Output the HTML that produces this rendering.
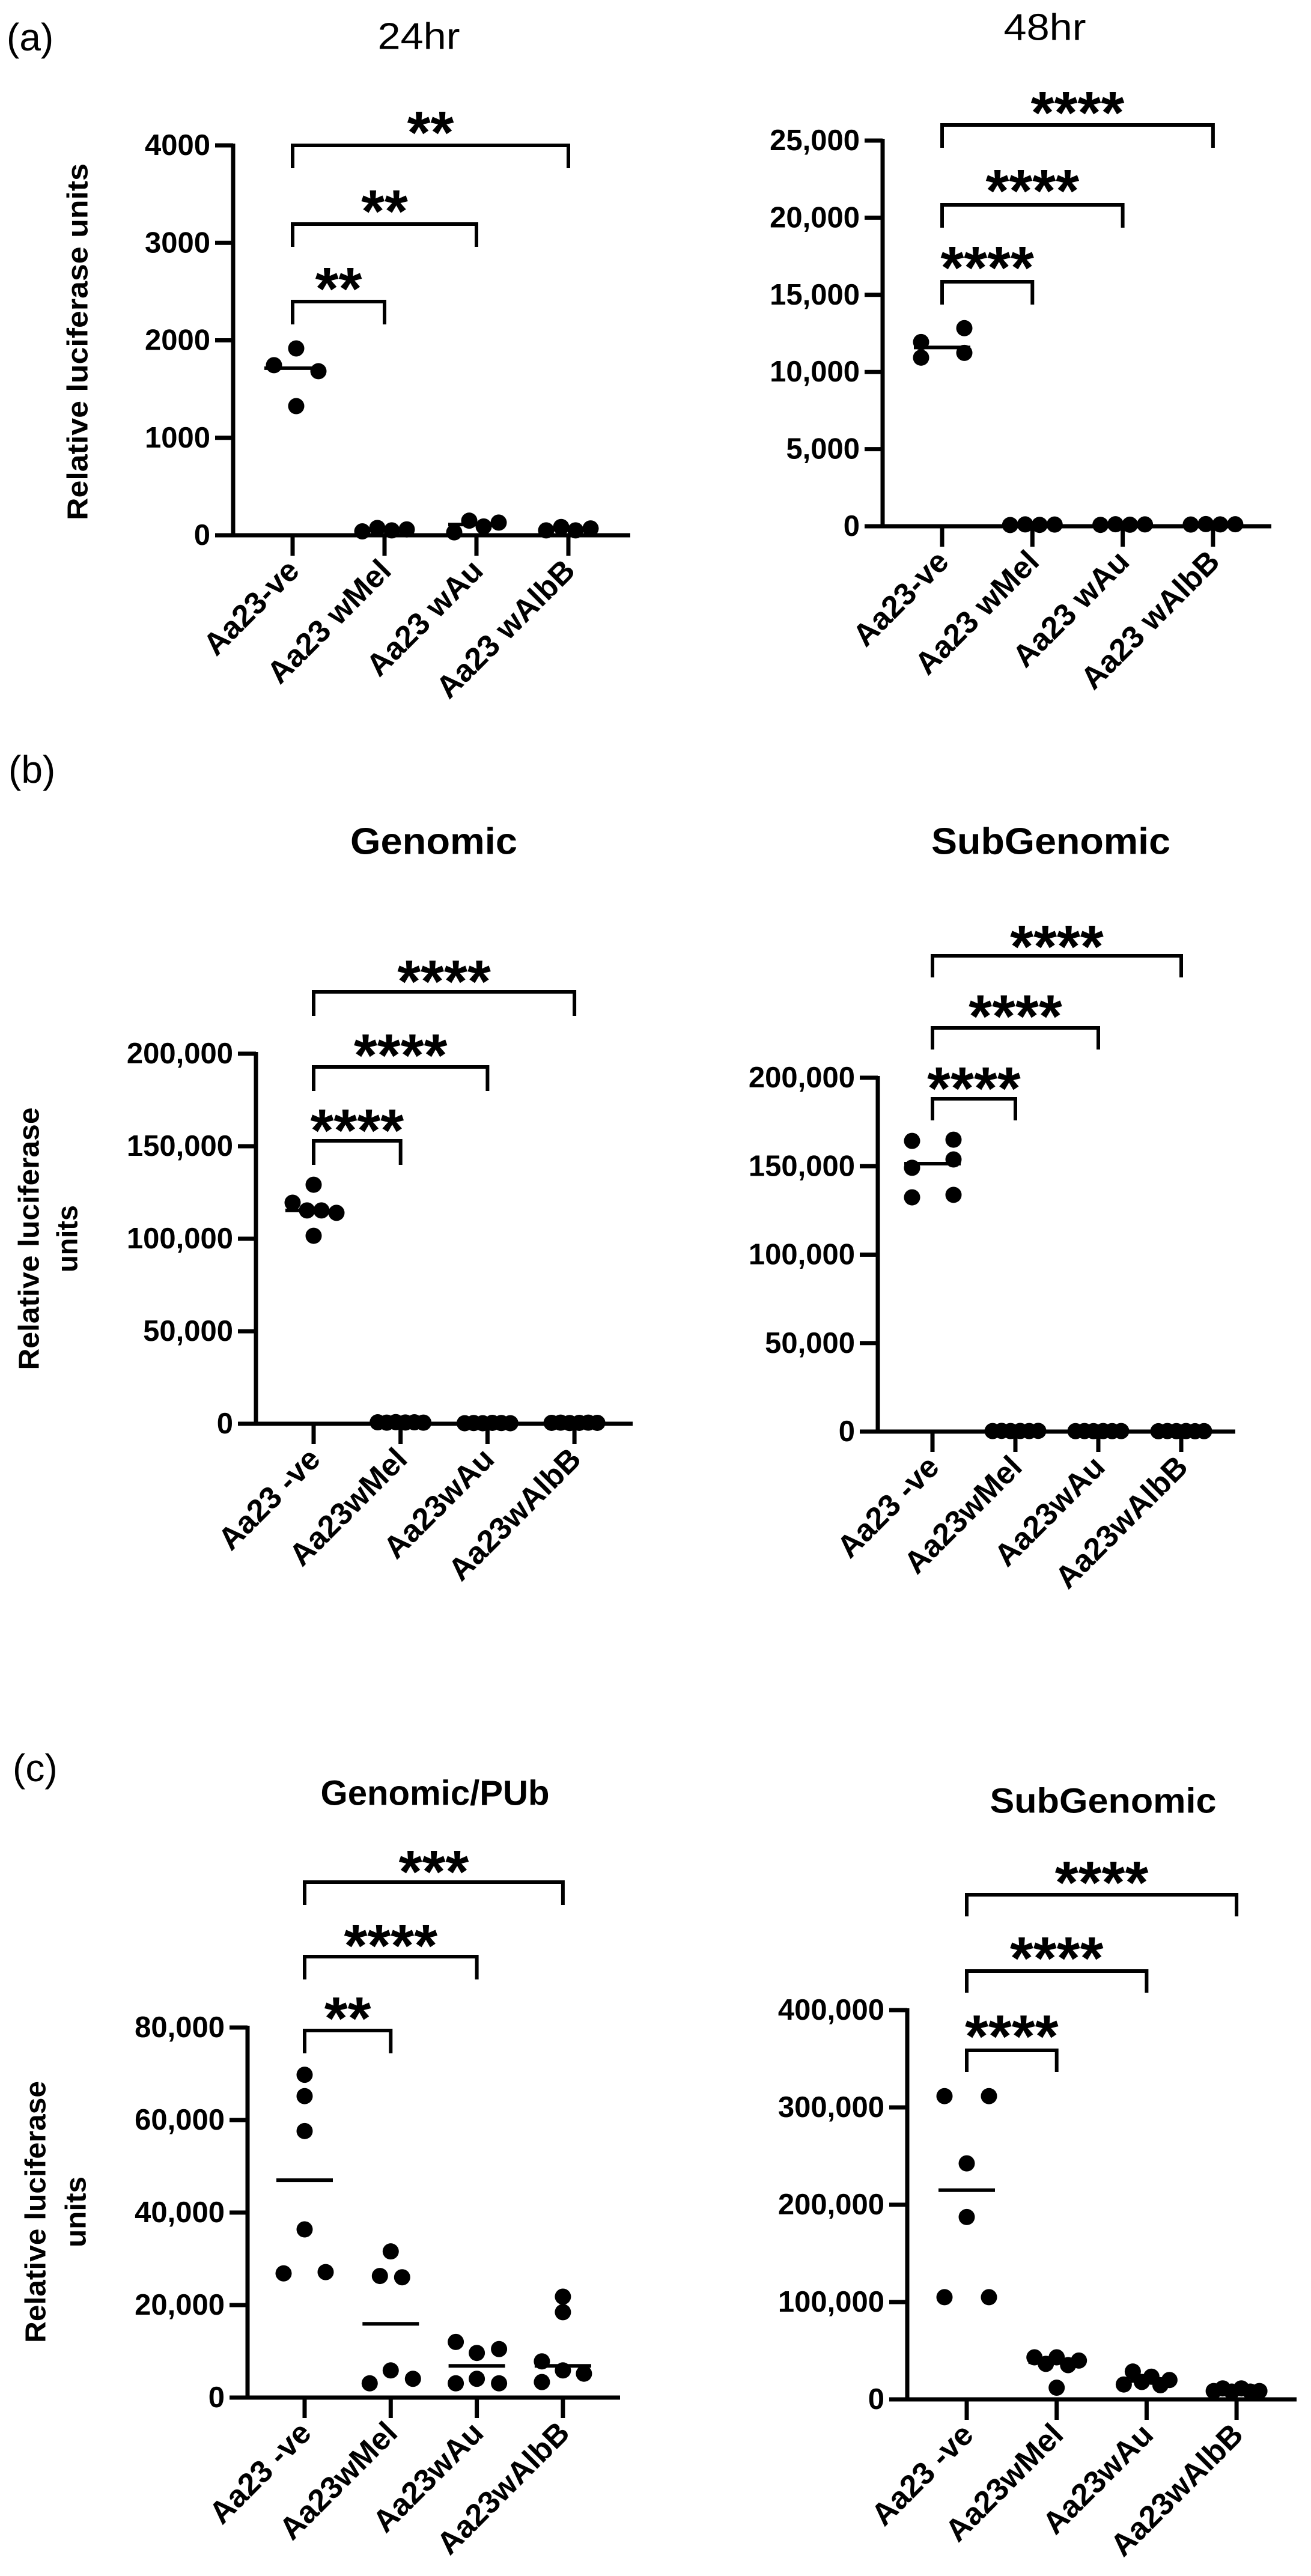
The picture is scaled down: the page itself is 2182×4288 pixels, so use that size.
<!DOCTYPE html>
<html><head><meta charset="utf-8"><style>
html,body{margin:0;padding:0;background:#fff;}
svg{display:block;}
text{font-family:"Liberation Sans",Arial,sans-serif;fill:#000;}
</style></head><body>
<svg id="fig" width="2182" height="4288" viewBox="0 0 2182 4288" xmlns="http://www.w3.org/2000/svg">
<rect width="2182" height="4288" fill="#fff"/>
<text x="11" y="84" font-size="64">(a)</text>
<text x="14" y="1303" font-size="64">(b)</text>
<text x="21" y="2965" font-size="64">(c)</text>
</svg>
<script>
// ---------- data ----------
const catsA = ["Aa23-ve","Aa23 wMel","Aa23 wAu","Aa23 wAlbB"];
const catsBC = ["Aa23 -ve","Aa23wMel","Aa23wAu","Aa23wAlbB"];

const a24Ticks = [0,1000,2000,3000,4000];
const a24Neg = [1917,1745,1683,1325];
const a24Mel = [40,75,50,60];
const a24Au = [30,150,90,130];
const a24AlbB = [50,85,50,70];
const a24Sig = ["**","**","**"];

const a48Ticks = [0,5000,10000,15000,20000,25000];
const a48Neg = [11940,10930,12840,11240];
const a48Mel = [80,120,90,110];
const a48Au = [90,130,100,120];
const a48AlbB = [110,140,120,130];
const a48Sig = ["****","****","****"];

const bGenTicks = [0,50000,100000,150000,200000];
const bGenNeg = [129200,119500,115300,115300,114000,101600];
const bGenMel = [800,600,900,700,800,600];
const bGenAu = [300,400,300,500,400,300];
const bGenAlbB = [500,600,400,500,600,500];
const bGenSig = ["****","****","****"];

const bSubTicks = [0,50000,100000,150000,200000];
const bSubNeg = [164300,149100,132400,165000,153800,133800];
const bSubMel = [300,400,300,350,300,400];
const bSubAu = [250,300,250,300,250,300];
const bSubAlbB = [200,300,250,300,200,250];
const bSubSig = ["****","****","****"];

const cGenTicks = [0,20000,40000,60000,80000];
const cGenNeg = [69790,65170,57620,36360,26850,27130];
const cGenMel = [31600,26290,26010,3080,5870,4060];
const cGenAu = [12030,9650,10490,3080,4060,3080];
const cGenAlbB = [21820,18460,7830,3360,5870,5170];
const cGenSig = ["**","****","***"];

const cSubTicks = [0,100000,200000,300000,400000];
const cSubNeg = [311600,311600,242500,187400,105000,105000];
const cSubMel = [43200,36500,43200,35200,39900,12000];
const cSubAu = [15300,28600,17900,23300,14600,19900];
const cSubAlbB = [8600,11300,8000,11300,8000,8600];
const cSubSig = ["****","****","****"];

// ---------- layout (jitter offsets in px) ----------
const J4 = [-37,-12,12,37];
const J6 = [-38,-23,-8,8,23,38];

const NS = "http://www.w3.org/2000/svg";
const svg = document.getElementById('fig');
function mk(tag, attrs, parent){
  const e = document.createElementNS(NS, tag);
  for (const k in attrs) e.setAttribute(k, attrs[k]);
  (parent||svg).appendChild(e);
  return e;
}
function fmt(v, comma){ return comma ? v.toLocaleString('en-US') : String(v); }
function median(a){ const s=[...a].sort((x,y)=>x-y); const n=s.length; return n%2? s[(n-1)/2] : (s[n/2-1]+s[n/2])/2; }

function panel(p){
  const g = mk('g', {});
  
  
  const max = p.ticks[p.ticks.length-1];
  const y = v => p.y0 - (v/max)*(p.y0 - p.yTop);
  const x = i => p.x0 + i*p.step;

  const t = mk('text', {x:p.title[1], y:p.title[2], 'font-size':p.title[4], 'text-anchor':'middle', 'dominant-baseline':'central', 'font-weight':p.title[5]?'bold':'normal', textLength:p.title[3], lengthAdjust:'spacingAndGlyphs'}, g);
  t.textContent = p.title[0];
  
  

  p.ytitle.forEach(l=>{
    const yt = mk('text', {x:0, y:0, 'font-size':48, 'font-weight':'bold', 'text-anchor':'middle', 'dominant-baseline':'central', transform:`translate(${l[1]},${l[2]}) rotate(-90)`, textLength:l[3], lengthAdjust:'spacingAndGlyphs'}, g);
    yt.textContent = l[0];
    
    
  });

  const ya = mk('line', {x1:p.ax, y1:p.yTop-3, x2:p.ax, y2:p.y0+3, stroke:'#000','stroke-width':7}, g);
  
  
  const xa = mk('line', {x1:p.ax-30, y1:p.y0, x2:p.xEnd, y2:p.y0, stroke:'#000','stroke-width':7}, g);
  
  

  p.ticks.forEach(v=>{
    const tk = mk('line', {x1:p.ax-30, y1:y(v), x2:p.ax, y2:y(v), stroke:'#000','stroke-width':7}, g);
    
    
    const tl = mk('text', {x:p.ax-38, y:y(v), 'font-size':49, 'font-weight':'bold', 'text-anchor':'end', 'dominant-baseline':'central'}, g);
    tl.textContent = fmt(v, p.comma);
    
    
  });

  p.cats.forEach((c,i)=>{
    const tk = mk('line', {x1:x(i), y1:p.y0, x2:x(i), y2:p.y0+34, stroke:'#000','stroke-width':7}, g);
    
    
    const tl = mk('text', {x:0, y:0, 'font-size':52, 'font-weight':'bold', 'text-anchor':'end', transform:`translate(${x(i)+14},${p.y0+62}) rotate(-45)`}, g);
    tl.textContent = c;
    
    
  });

  p.series.forEach((vals,i)=>{
    const jit = p.jit[i];
    vals.forEach((v,k)=>{
      const d = mk('circle', {cx:x(i)+jit[k], cy:y(v), r:13.5, fill:'#000'}, g);
      
      
    });
    const m = median(vals);
    const ml = mk('line', {x1:x(i)-47, y1:y(m), x2:x(i)+47, y2:y(m), stroke:'#000','stroke-width':6}, g);
    
    
  });

  p.sig.forEach((s,i)=>{
    const by = p.brY[i];
    const br = mk('path', {d:`M${x(0)},${by+p.drop} V${by} H${x(i+1)} V${by+p.drop}`, fill:'none', stroke:'#000','stroke-width':6}, g);
    
    
    const st = mk('text', {x:(x(0)+x(i+1))/2, y:p.starY[i]+57, 'font-size':100, 'font-weight':'bold', 'text-anchor':'middle'}, g);
    st.textContent = s;
    
    
  });
}

panel({name:'chart-a-24hr', title:['24hr',697,61,137,62,false], ytitle:[['Relative luciferase units',130,569,594]],
  ax:388, y0:891, yTop:242, ticks:a24Ticks, comma:false, x0:487, step:153, xEnd:1049, cats:catsA,
  series:[a24Neg,a24Mel,a24Au,a24AlbB], jit:[[6,-31,43,6],J4,J4,J4],
  sig:a24Sig, brY:[502,373,242], drop:38, starY:[458,329,198]});

panel({name:'chart-a-48hr', title:['48hr',1739,46,137,62,false], ytitle:[],
  ax:1469, y0:876, yTop:234, ticks:a48Ticks, comma:true, x0:1568, step:150.3, xEnd:2116, cats:catsA,
  series:[a48Neg,a48Mel,a48Au,a48AlbB], jit:[[-35,-35,37,37],J4,J4,J4],
  sig:a48Sig, brY:[469,341,208], drop:38, starY:[423,295,165]});

panel({name:'chart-b-genomic', title:['Genomic',722,1401,278,62,true], ytitle:[['Relative luciferase',49,2062,437],['units',113,2062,112]],
  ax:426, y0:2370, yTop:1754, ticks:bGenTicks, comma:true, x0:522, step:144.7, xEnd:1053, cats:catsBC,
  series:[bGenNeg,bGenMel,bGenAu,bGenAlbB], jit:[[0,-35,-11,13,38,0],J6,J6,J6],
  sig:bGenSig, brY:[1899,1776,1651], drop:40, starY:[1859,1734,1611]});

panel({name:'chart-b-subgenomic', title:['SubGenomic',1749,1401,398,62,true], ytitle:[],
  ax:1461, y0:2383, yTop:1794, ticks:bSubTicks, comma:true, x0:1552, step:138, xEnd:2056, cats:catsBC,
  series:[bSubNeg,bSubMel,bSubAu,bSubAlbB], jit:[[-34,-34,-34,35,35,35],J6,J6,J6],
  sig:bSubSig, brY:[1829,1711,1591], drop:36, starY:[1789,1669,1553]});

panel({name:'chart-c-genomic-pub', title:['Genomic/PUb',724,2985,381,58,true], ytitle:[['Relative luciferase',60,3682,436],['units',127,3682,118]],
  ax:412, y0:3991, yTop:3375, ticks:cGenTicks, comma:true, x0:507, step:143.3, xEnd:1032, cats:catsBC,
  series:[cGenNeg,cGenMel,cGenAu,cGenAlbB], jit:[[0,0,0,0,-35,35],[0,-18,19,-35,0,37],[-35,0,37,-35,0,37],[0,0,-35,-35,0,35]],
  sig:cGenSig, brY:[3380,3257,3133], drop:38, starY:[3337,3216,3093]});

panel({name:'chart-c-subgenomic', title:['SubGenomic',1836,2998,377,58,true], ytitle:[],
  ax:1510, y0:3994, yTop:3346, ticks:cSubTicks, comma:true, x0:1609, step:149.7, xEnd:2158, cats:catsBC,
  series:[cSubNeg,cSubMel,cSubAu,cSubAlbB], jit:[[-37,37,0,0,-37,37],[-37,-18,0,19,37,0],J6,J6],
  sig:cSubSig, brY:[3413,3281,3154], drop:36, starY:[3367,3237,3111]});
</script>
</body></html>
